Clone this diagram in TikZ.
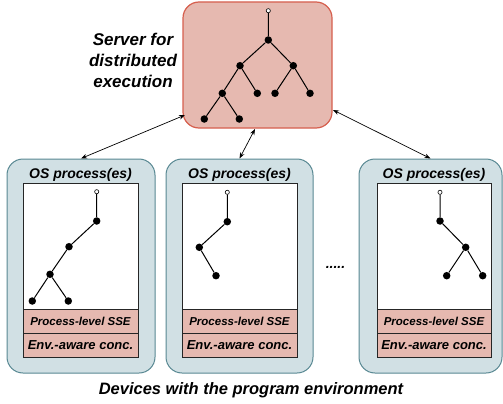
\documentclass[tikz,border=0pt]{standalone}
\usepackage{fontspec}
\setmainfont{Liberation Sans}
\usetikzlibrary{arrows.meta}
\definecolor{srvfill}{RGB}{230,185,176}
\definecolor{srvline}{RGB}{214,95,78}
\definecolor{devfill}{RGB}{209,224,228}
\definecolor{devline}{RGB}{88,136,146}
\definecolor{rowfill}{RGB}{230,185,176}
\begin{document}
\begin{tikzpicture}[x=1pt,y=-1pt,
 serverbox/.style={draw=srvline, fill=srvfill, line width=1.2pt, rounded corners=16pt, minimum width=149pt, minimum height=126pt, inner sep=0},
 devbox/.style={draw=devline, fill=devfill, line width=1pt, rounded corners=16pt, minimum height=214pt, inner sep=0},
 panel/.style={draw=black!85, fill=white, line width=0.8pt, minimum height=126pt, inner sep=0},
 rowbox/.style={draw=black!85, fill=rowfill, line width=0.8pt, minimum height=24pt, inner sep=0},
 lbl/.style={font=\fontsize{14}{16}\selectfont\bfseries\itshape, inner sep=0, anchor=base},
 sselbl/.style={font=\fontsize{11.5}{13}\selectfont\bfseries\itshape, inner sep=0},
 envlbl/.style={font=\fontsize{13}{15}\selectfont\bfseries\itshape, inner sep=0},
 dot/.style={circle, fill=black, minimum size=7.5pt, inner sep=0},
 rootdot/.style={circle, draw=black, fill=white, line width=0.6pt, minimum size=4.2pt, inner sep=0},
 edge/.style={line width=1pt},
 link/.style={line width=0.7pt, {Stealth[length=6pt,width=4.5pt]}-{Stealth[length=6pt,width=4.5pt]}}]
\useasboundingbox (0,0) rectangle (503,404);

% server
\node[serverbox] (server) at (257.5,65) {};
\node[font=\fontsize{17}{21}\selectfont\bfseries\itshape, align=center, inner sep=0] (srvtxt) at (133,60) {Server for\\distributed\\execution};

% server tree
\node[rootdot] (s0) at (268.3,10.7) {};
\node[dot] (s1) at (268.3,40) {};
\node[dot] (s2) at (240,65.7) {};
\node[dot] (s3) at (293.3,65.7) {};
\node[dot] (s4) at (222.3,93.3) {};
\node[dot] (s5) at (257.3,93.3) {};
\node[dot] (s6) at (275,93.3) {};
\node[dot] (s7) at (310,93.3) {};
\node[dot] (s8) at (204.3,119) {};
\node[dot] (s9) at (239.3,119) {};
\draw[edge] (s0)--(s1) (s1)--(s2) (s1)--(s3) (s2)--(s4) (s2)--(s5) (s3)--(s6) (s3)--(s7) (s4)--(s8) (s4)--(s9);

% device boxes
\node[devbox, minimum width=148pt] (dev1) at (81,266) {};
\node[devbox, minimum width=147pt] (dev2) at (239.5,266) {};
\node[devbox, minimum width=143pt] (dev3) at (430.5,266) {};

\node[lbl] (t1) at (80.5,178) {OS process(es)};
\node[lbl] (t2) at (239.5,178) {OS process(es)};
\node[lbl] (t3) at (434,178) {OS process(es)};

\node[panel, minimum width=115pt] (p1) at (80.5,246) {};
\node[panel, minimum width=115pt] (p2) at (239.5,246) {};
\node[panel, minimum width=114pt] (p3) at (434,246) {};

\node[rowbox, minimum width=115pt] (r1a) at (80.5,321) {};
\node[rowbox, minimum width=115pt] (r1b) at (80.5,345) {};
\node[rowbox, minimum width=115pt] (r2a) at (239.5,321) {};
\node[rowbox, minimum width=115pt] (r2b) at (239.5,345) {};
\node[rowbox, minimum width=114pt] (r3a) at (434,321) {};
\node[rowbox, minimum width=114pt] (r3b) at (434,345) {};
\node[sselbl] at (r1a) {Process-level SSE};
\node[envlbl] at (r1b) {Env.-aware conc.};
\node[sselbl] at (r2a) {Process-level SSE};
\node[envlbl] at (r2b) {Env.-aware conc.};
\node[sselbl] at (r3a) {Process-level SSE};
\node[envlbl] at (r3b) {Env.-aware conc.};

% left tree
\node[rootdot] (a0) at (96.7,191.7) {};
\node[dot] (a1) at (96.7,221) {};
\node[dot] (a2) at (69,246.7) {};
\node[dot] (a3) at (50,274.3) {};
\node[dot] (a4) at (32.3,301) {};
\node[dot] (a5) at (68.3,301) {};
\draw[edge] (a0)--(a1) (a1)--(a2) (a2)--(a3) (a3)--(a4) (a3)--(a5);

% middle tree
\node[rootdot] (b0) at (227.3,192.3) {};
\node[dot] (b1) at (227.3,221.7) {};
\node[dot] (b2) at (199.3,247.3) {};
\node[dot] (b3) at (216,275.7) {};
\draw[edge] (b0)--(b1) (b1)--(b2) (b2)--(b3);

% right tree
\node[rootdot] (c0) at (440,192.3) {};
\node[dot] (c1) at (440,221) {};
\node[dot] (c2) at (465.7,247.3) {};
\node[dot] (c3) at (446.7,275.7) {};
\node[dot] (c4) at (482.7,275.7) {};
\draw[edge] (c0)--(c1) (c1)--(c2) (c2)--(c3) (c2)--(c4);

% ellipsis
\node[font=\fontsize{14}{16}\selectfont\bfseries\itshape, inner sep=0, anchor=base] (dots) at (335.5,268) {.....};

% links
\coordinate (sl) at (185,115);
\coordinate (sm) at (255,129);
\coordinate (sr) at (333,110);
\draw[link] (sl) -- (dev1.north);
\draw[link] (sm) -- (dev2.north);
\draw[link] (sr) -- (dev3.north);

% caption
\node[font=\fontsize{16.5}{19}\selectfont\bfseries\itshape, inner sep=0, anchor=base] (cap) at (251,394) {Devices with the program environment};
\end{tikzpicture}
\end{document}
